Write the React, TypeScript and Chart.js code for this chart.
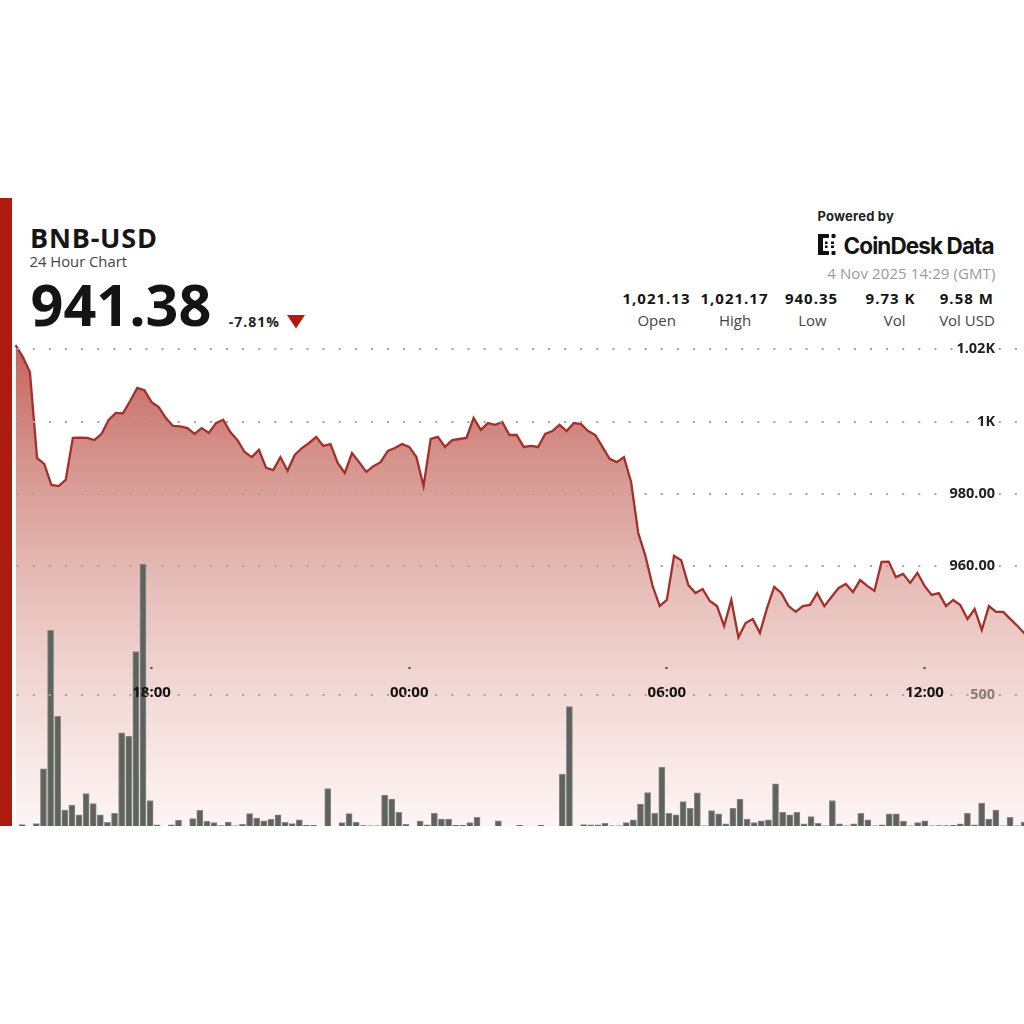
import { useEffect, useRef } from 'react';
import { Chart, registerables } from 'chart.js';

Chart.register(...registerables);

// Price, one point per 10 minutes (14:50 -> 14:20 next day)
const PRICES = [
  1021.13, 1017.9, 1013.7, 989.9, 988.3, 982.5, 982.2, 983.9, 995.5, 995.6,
  995.5, 994.9, 996.6, 1000.5, 1002.4, 1002.3, 1005.7, 1009.3, 1008.7, 1005.4,
  1004.0, 1001.0, 998.8, 998.7, 998.2, 996.6, 998.2, 996.9, 999.6, 1000.5,
  997.1, 994.9, 991.6, 990.2, 992.2, 987.2, 986.6, 990.2, 986.4, 990.8,
  992.7, 994.1, 995.8, 993.3, 993.8, 988.6, 985.8, 991.3, 988.8, 986.1,
  987.7, 988.8, 991.9, 992.7, 993.8, 993.0, 990.2, 982.2, 995.2, 995.8,
  993.0, 994.9, 995.2, 995.5, 1001.0, 997.7, 999.6, 999.1, 999.9, 996.3,
  996.3, 993.0, 993.3, 993.0, 996.6, 997.4, 999.1, 997.4, 999.6, 999.3,
  997.4, 996.3, 993.0, 989.7, 988.8, 990.2, 983.3, 969.2, 962.9, 954.6,
  949.0, 950.7, 962.9, 961.7, 954.8, 952.6, 953.7, 950.4, 949.0, 943.5,
  950.7, 940.35, 944.3, 945.4, 941.6, 948.5, 954.3, 952.6, 949.0, 947.4,
  949.0, 949.3, 952.6, 949.0, 951.5, 954.0, 955.1, 952.9, 956.2, 954.6,
  953.2, 961.2, 961.3, 957.0, 957.9, 955.4, 958.2, 954.6, 952.1, 952.6,
  949.0, 950.7, 949.3, 945.4, 948.2, 942.4, 949.0, 947.4, 947.4, 945.4,
  943.5, 941.38,
];

// Volume bars
const VOLUMES = [
  5, 0, 9, 217, 744, 417, 61, 80, 42, 123,
  85, 42, 14, 48, 354, 341, 663, 996, 97, 4,
  0, 4, 22, 0, 28, 60, 18, 13, 2, 15,
  1, 6, 47, 30, 20, 25, 42, 14, 9, 23,
  3, 3, 0, 142, 0, 13, 47, 14, 2, 1,
  1, 118, 102, 52, 6, 0, 19, 4, 48, 26,
  26, 3, 3, 13, 33, 0, 0, 20, 0, 0,
  3, 0, 0, 3, 0, 0, 197, 454, 0, 5,
  4, 4, 10, 1, 1, 13, 23, 83, 127, 48,
  223, 48, 42, 93, 67, 126, 1, 59, 46, 8,
  67, 102, 26, 13, 20, 23, 160, 52, 42, 52,
  8, 36, 10, 1, 97, 8, 1, 8, 48, 23,
  1, 4, 46, 46, 19, 1, 13, 20, 1, 2,
  2, 3, 8, 48, 4, 87, 26, 61, 1, 33,
  1, 15,
];

const PRICE_TICKS = [960, 980, 1000, 1020];
const PRICE_TICK_LABELS = ['960.00', '980.00', '1K', '1.02K'];
const VOLUME_TICKS = [500];
const VOLUME_TICK_LABELS = ['500'];
const TIME_TICK_INDEX = [19, 55, 91, 127];
const TIME_TICK_LABELS = ['18:00', '00:00', '06:00', '12:00'];

const STAT_VALUES = ['1,021.13', '1,021.17', '940.35', '9.73 K', '9.58 M'];
const STAT_LABELS = ['Open', 'High', 'Low', 'Vol', 'Vol USD'];
const STAT_VALUE_X = [656.5, 734.5, 811.5, 890.5, 966.8];
const STAT_LABEL_X = [656.7, 735, 812.5, 894.7, 967];

const OPEN = "'Open Sans', 'Noto Sans', sans-serif";
const INTER = "Inter, 'Open Sans', sans-serif";

const noPadding = (s: any) => {
  s.paddingTop = 0;
  s.paddingBottom = 0;
  s.paddingLeft = 0;
  s.paddingRight = 0;
};

export default function App() {
  const ref = useRef<HTMLCanvasElement>(null);

  useEffect(() => {
    const canvas = ref.current;
    if (!canvas) return;
    const gridDots = {
      display: false,
      dash: [2, 14.1],
      dashOffset: 11.4,
    };
    const chart = new Chart(canvas, {
      type: 'line',
      data: {
        datasets: [
          {
            type: 'line',
            data: PRICES.map((p, i) => ({ x: i, y: p })),
            xAxisID: 'x',
            yAxisID: 'y',
            borderColor: '#a3302b',
            borderWidth: 2.3,
            pointRadius: 0,
            tension: 0,
            fill: 'start',
            order: 1,
            backgroundColor: (ctx: any) => {
              const c = ctx.chart;
              const area = c.chartArea;
              if (!area) return 'rgba(200,110,100,0.4)';
              const g = c.ctx.createLinearGradient(0, area.top, 0, area.bottom);
              g.addColorStop(0, '#c4625b');
              g.addColorStop(0.25, '#d6948e');
              g.addColorStop(0.5, '#e6bdb8');
              g.addColorStop(0.75, '#f3dcd9');
              g.addColorStop(1, '#fdf5f4');
              return g;
            },
          } as any,
          {
            type: 'bar',
            data: VOLUMES.map((v, j) => ({ x: j, y: v })),
            xAxisID: 'x2',
            yAxisID: 'yv',
            backgroundColor: '#5e635d',
            borderColor: '#878b86',
            borderWidth: 1,
            borderSkipped: 'start',
            barThickness: 6.1,
            order: 0,
          } as any,
        ],
      },
      options: {
        responsive: false,
        animation: false,
        maintainAspectRatio: false,
        layout: { padding: 0 },
        plugins: {
          legend: { display: false },
          tooltip: { enabled: false },
        },
        scales: {
          x: {
            type: 'linear',
            min: -0.503,
            max: 140.9,
            position: { y: 932.03 } as any,
            afterBuildTicks: (s: any) => {
              s.ticks = TIME_TICK_INDEX.map((v) => ({ value: v }));
            },
            afterFit: noPadding,
            ticks: {
              callback: (_v: any, i: number) => TIME_TICK_LABELS[i],
              font: { family: OPEN, size: 15, weight: 'bold' },
              color: '#111',
              padding: 14.5,
              maxRotation: 0,
              autoSkip: false,
              z: 1,
            },
            grid: {
              drawOnChartArea: false,
              drawTicks: true,
              tickLength: 2,
              tickWidth: 2,
              tickColor: '#444',
              z: 1,
            },
            border: { display: false },
          } as any,
          x2: {
            type: 'linear',
            display: false,
            offset: false,
            min: -0.999,
            max: 141.39,
            afterFit: noPadding,
          } as any,
          y: {
            type: 'linear',
            min: 888.2,
            max: 1022.57,
            position: { x: 136.85 } as any,
            afterBuildTicks: (s: any) => {
              s.ticks = PRICE_TICKS.map((v) => ({ value: v }));
            },
            afterFit: noPadding,
            ticks: {
              callback: (_v: any, i: number) => PRICE_TICK_LABELS[i],
              font: { family: OPEN, size: 14.5, weight: 'bold' },
              color: '#222',
              padding: 0,
              showLabelBackdrop: true,
              backdropColor: '#ffffff',
              backdropPadding: 3,
              z: 1,
            },
            grid: {
              color: '#a3a3a3',
              lineWidth: 2,
              drawTicks: false,
              z: 1,
            },
            border: gridDots,
          } as any,
          yv: {
            type: 'linear',
            min: 0,
            max: 1848,
            position: { x: 136.85 } as any,
            afterBuildTicks: (s: any) => {
              s.ticks = VOLUME_TICKS.map((v) => ({ value: v }));
            },
            afterFit: noPadding,
            ticks: {
              callback: (_v: any, i: number) => VOLUME_TICK_LABELS[i],
              font: { family: OPEN, size: 14.5, weight: 'bold' },
              color: '#8a7c78',
              padding: 0,
              z: 1,
            },
            grid: {
              color: '#a3a3a3',
              lineWidth: 2,
              drawTicks: false,
              z: 1,
            },
            border: gridDots,
          } as any,
        },
      } as any,
    });
    return () => chart.destroy();
  }, []);

  const txt = (style: any, children: any, key?: any) => (
    <div
      key={key}
      style={{ position: 'absolute', whiteSpace: 'nowrap', lineHeight: 1, ...style }}
    >
      {children}
    </div>
  );

  return (
    <div
      style={{
        position: 'absolute',
        left: 0,
        top: 0,
        width: 1024,
        height: 1024,
        background: '#ffffff',
        overflow: 'hidden',
        fontFamily: OPEN,
      }}
    >
      <div
        style={{ position: 'absolute', left: 0, top: 198, width: 12, height: 628, background: '#ac1a10' }}
      />

      {txt({ left: 30, top: 224.3, fontSize: 27, fontWeight: 700, color: '#161616', letterSpacing: 0.8 }, 'BNB-USD')}
      {txt({ left: 29.5, top: 254.2, fontSize: 14.8, fontWeight: 400, color: '#444' }, '24 Hour Chart')}
      {txt({ left: 30.5, top: 276.2, fontSize: 57.5, fontWeight: 700, color: '#141414' }, '941.38')}
      {txt({ left: 228.8, top: 314.9, fontSize: 14, fontWeight: 700, color: '#222', letterSpacing: 1 }, '-7.81%')}
      <svg
        width={18}
        height={14}
        viewBox="0 0 18 14"
        style={{ position: 'absolute', left: 287.3, top: 315 }}
      >
        <polygon points="0,0 18,0 9,13.5" fill="#b5180f" />
      </svg>

      {txt({ left: 817.5, top: 209.5, fontSize: 13, fontWeight: 700, color: '#222', fontFamily: INTER, letterSpacing: 0.2 }, 'Powered by')}
      <svg
        width={18}
        height={21}
        viewBox="0 0 18 21"
        style={{ position: 'absolute', left: 818, top: 234 }}
      >
        <rect x={0} y={0} width={5} height={21} rx={1} fill="#111" />
        <rect x={0} y={0} width={11} height={4} rx={1} fill="#111" />
        <rect x={0} y={17} width={11} height={4} rx={1} fill="#111" />
        <rect x={13.5} y={0} width={4} height={4} rx={1} fill="#111" />
        <rect x={13.5} y={17} width={4} height={4} rx={1} fill="#111" />
        <rect x={7} y={7.5} width={2.5} height={2.5} fill="#111" />
        <rect x={7} y={11.5} width={2.5} height={2.5} fill="#111" />
        <rect x={13} y={7.5} width={3} height={2.5} fill="#111" />
        <rect x={13} y={11.5} width={3} height={2.5} fill="#111" />
      </svg>
      {txt({ left: 843.5, top: 234.6, fontSize: 22.5, fontWeight: 700, color: '#141414', fontFamily: INTER, letterSpacing: -0.9 }, 'CoinDesk Data')}
      {txt({ right: 28.5, top: 266, fontSize: 15, fontWeight: 400, color: '#9a9a9a', letterSpacing: 0.1 }, '4 Nov 2025 14:29 (GMT)')}

      {STAT_VALUES.map((v, i) =>
        txt(
          { left: STAT_VALUE_X[i], top: 291, fontSize: 15, fontWeight: 700, color: '#141414', letterSpacing: 1, transform: 'translateX(-50%)' },
          v,
          'v' + i,
        ),
      )}
      {STAT_LABELS.map((v, i) =>
        txt(
          { left: STAT_LABEL_X[i], top: 312.7, fontSize: 15, fontWeight: 400, color: '#444', transform: 'translateX(-50%)' },
          v,
          'l' + i,
        ),
      )}

      <canvas
        ref={ref}
        width={1012}
        height={486}
        style={{ position: 'absolute', left: 12, top: 340, width: 1012, height: 486 }}
      />
    </div>
  );
}
